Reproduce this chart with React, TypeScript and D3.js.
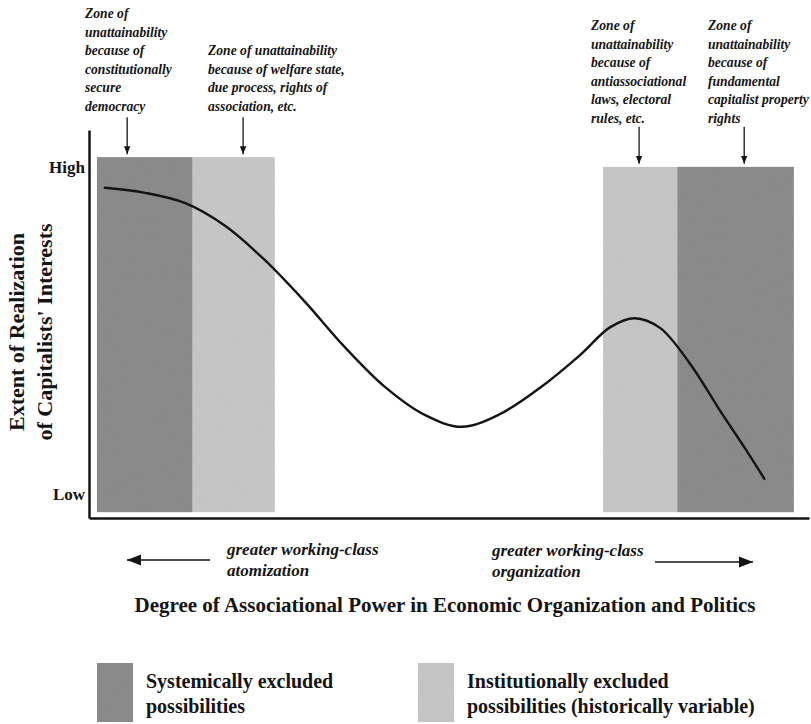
import { useEffect, useRef } from "react";
import * as d3 from "d3";

// zones of unattainability (x in "associational power" units 0-100, y in "realization" units 0-100)
const ZONE_START = [1.1, 14.4, 71.4, 81.7];
const ZONE_END = [14.4, 25.8, 81.7, 97.9];
const ZONE_TOP = [93.0, 93.0, 90.5, 90.5];
const ZONE_BOTTOM = 1.5;
const ZONE_KIND = ["systemic", "institutional", "institutional", "systemic"];
const ARROW_AT = [5.3, 21.4, 76.4, 91.0];

// the curve
const CURVE_X = [
  2.2, 7.8, 13.3, 18.9, 24.4, 30.0, 35.5, 41.1, 46.7, 51.8,
  57.1, 62.6, 68.2, 72.4, 75.8, 79.3, 83.5, 87.6, 91.1, 93.8,
];
const CURVE_Y = [
  85.1, 83.8, 81.2, 75.3, 66.5, 55.7, 44.1, 33.8, 26.5, 23.5,
  26.8, 33.5, 42.0, 49.2, 51.5, 49.0, 39.7, 27.8, 18.0, 10.1,
];

const Y_TICKS = [90.5, 6.2];
const Y_TICK_LABELS = ["High", "Low"];

const NOTE_1 = ["Zone of", "unattainability", "because of", "constitutionally", "secure", "democracy"];
const NOTE_2 = ["Zone of unattainability", "because of welfare state,", "due process, rights of", "association, etc."];
const NOTE_3 = ["Zone of", "unattainability", "because of", "antiassociational", "laws, electoral", "rules, etc."];
const NOTE_4 = ["Zone of", "unattainability", "because of", "fundamental", "capitalist property", "rights"];

const LEFT_DIR = ["greater working-class", "atomization"];
const RIGHT_DIR = ["greater working-class", "organization"];
const X_TITLE = "Degree of Associational Power in Economic Organization and Politics";
const Y_TITLE = ["Extent of Realization", "of Capitalists' Interests"];

const LEGEND_LABELS = [
  ["Systemically excluded", "possibilities"],
  ["Institutionally excluded", "possibilities (historically variable)"],
];
const LEGEND_KIND = ["systemic", "institutional"];

const COLORS: Record<string, string> = { systemic: "#8e8e8e", institutional: "#cacaca" };
const FONT = "'Liberation Serif', 'Times New Roman', serif";
const INK = "#141414";

const App = () => {
  const ref = useRef<SVGSVGElement | null>(null);
  const width = 811;
  const height = 724;

  useEffect(() => {
    const svg = d3.select(ref.current);
    svg.selectAll("*").remove();

    const x = d3.scaleLinear().domain([0, 100]).range([89, 809]);
    const y = d3.scaleLinear().domain([0, 100]).range([518, 130]);

    const defs = svg.append("defs");
    const marker = (id: string, size: number) =>
      defs
        .append("marker")
        .attr("id", id)
        .attr("viewBox", "0 0 10 10")
        .attr("refX", 10)
        .attr("refY", 5)
        .attr("markerWidth", size)
        .attr("markerHeight", size)
        .attr("markerUnits", "userSpaceOnUse")
        .attr("orient", "auto")
        .append("path")
        .attr("d", "M0,1 L10,5 L0,9 Z")
        .attr("fill", INK);
    marker("head", 8);
    marker("bighead", 14);

    const grain = defs.append("filter").attr("id", "grain").attr("x", 0).attr("y", 0).attr("width", 1).attr("height", 1);
    grain.append("feTurbulence").attr("type", "fractalNoise").attr("baseFrequency", 0.9).attr("numOctaves", 2).attr("result", "n");
    grain.append("feColorMatrix").attr("in", "n").attr("type", "matrix")
      .attr("values", "0 0 0 0 0  0 0 0 0 0  0 0 0 0 0  0 0 0 0.12 0").attr("result", "a");
    grain.append("feComposite").attr("in", "a").attr("in2", "SourceGraphic").attr("operator", "atop");

    // zones
    const zones = ZONE_START.map((s, i) => ({ s, e: ZONE_END[i], top: ZONE_TOP[i], kind: ZONE_KIND[i] }));
    svg
      .append("g")
      .selectAll("rect")
      .data(zones)
      .join("rect")
      .attr("x", (d) => x(d.s))
      .attr("width", (d) => x(d.e) - x(d.s))
      .attr("y", (d) => y(d.top))
      .attr("height", (d) => y(ZONE_BOTTOM) - y(d.top))
      .attr("fill", (d) => COLORS[d.kind])
      .attr("filter", "url(#grain)");

    // curve
    const pts = CURVE_X.map((cx, i) => [cx, CURVE_Y[i]] as [number, number]);
    svg
      .append("path")
      .datum(pts)
      .attr("fill", "none")
      .attr("stroke", INK)
      .attr("stroke-width", 2.4)
      .attr("stroke-linecap", "round")
      .attr("d", d3.line().x((d) => x(d[0])).y((d) => y(d[1])).curve(d3.curveCatmullRom.alpha(0.5)));

    // axes
    const yAxis = svg
      .append("g")
      .attr("transform", `translate(${x(0)},0)`)
      .call(
        d3
          .axisLeft(y)
          .tickValues(Y_TICKS)
          .tickFormat((_, i) => Y_TICK_LABELS[i])
          .tickSize(0)
          .tickPadding(4)
      );
    yAxis.select(".domain").attr("stroke", INK).attr("stroke-width", 2.5);
    yAxis
      .selectAll("text")
      .attr("font-family", FONT)
      .attr("font-weight", "bold")
      .attr("font-size", 17)
      .attr("fill", INK);

    const xAxis = svg
      .append("g")
      .attr("transform", `translate(0,${y(0)})`)
      .call(d3.axisBottom(x).tickValues([]).tickSizeOuter(0));
    xAxis.select(".domain").attr("stroke", INK).attr("stroke-width", 2.5);

    // notes above the zones
    const notes = [
      { lines: NOTE_1, left: 85, first: 18 },
      { lines: NOTE_2, left: 208, first: 55 },
      { lines: NOTE_3, left: 591, first: 30 },
      { lines: NOTE_4, left: 708, first: 30 },
    ];
    notes.forEach((n) => {
      svg
        .append("g")
        .selectAll("text")
        .data(n.lines)
        .join("text")
        .attr("x", n.left)
        .attr("y", (_, i) => n.first + i * 18.6)
        .attr("font-family", FONT)
        .attr("font-weight", "bold")
        .attr("font-style", "italic")
        .attr("font-size", 13.6)
        .attr("fill", INK)
        .text((d) => d);
    });

    // arrows down to the zones
    svg
      .append("g")
      .selectAll("line")
      .data(ARROW_AT.map((a, i) => ({ a, top: ZONE_TOP[i] })))
      .join("line")
      .attr("x1", (d) => x(d.a))
      .attr("x2", (d) => x(d.a))
      .attr("y1", (d) => y(d.top) - 40)
      .attr("y2", (d) => y(d.top) - 3)
      .attr("stroke", INK)
      .attr("stroke-width", 1.3)
      .attr("marker-end", "url(#head)");

    // direction arrows under the axis
    const dir = svg.append("g");
    dir
      .append("line")
      .attr("x1", 210).attr("x2", 127).attr("y1", 560).attr("y2", 560)
      .attr("stroke", INK).attr("stroke-width", 1.6).attr("marker-end", "url(#bighead)");
    dir
      .append("line")
      .attr("x1", 655).attr("x2", 753).attr("y1", 562).attr("y2", 562)
      .attr("stroke", INK).attr("stroke-width", 1.6).attr("marker-end", "url(#bighead)");
    [
      { lines: LEFT_DIR, left: 227, first: 555 },
      { lines: RIGHT_DIR, left: 492, first: 556 },
    ].forEach((n) => {
      dir
        .append("g")
        .selectAll("text")
        .data(n.lines)
        .join("text")
        .attr("x", n.left)
        .attr("y", (_, i) => n.first + i * 21)
        .attr("font-family", FONT)
        .attr("font-weight", "bold")
        .attr("font-style", "italic")
        .attr("font-size", 17)
        .attr("fill", INK)
        .text((d) => d);
    });

    // titles
    svg
      .append("text")
      .attr("x", 445)
      .attr("y", 612)
      .attr("text-anchor", "middle")
      .attr("font-family", FONT)
      .attr("font-weight", "bold")
      .attr("font-size", 21)
      .attr("fill", INK)
      .text(X_TITLE);

    svg
      .append("g")
      .selectAll("text")
      .data(Y_TITLE)
      .join("text")
      .attr("transform", (_, i) => `translate(${24 + i * 28},332) rotate(-90)`)
      .attr("text-anchor", "middle")
      .attr("font-family", FONT)
      .attr("font-weight", "bold")
      .attr("font-size", 22)
      .attr("fill", INK)
      .text((d) => d);

    // legend
    const legend = svg
      .append("g")
      .selectAll("g")
      .data(LEGEND_KIND.map((k, i) => ({ k, lines: LEGEND_LABELS[i], left: i === 0 ? 97 : 418 })))
      .join("g")
      .attr("transform", (d) => `translate(${d.left},663)`);
    legend
      .append("rect")
      .attr("width", 36)
      .attr("height", 59)
      .attr("fill", (d) => COLORS[d.k])
      .attr("filter", "url(#grain)");
    legend
      .selectAll("text")
      .data((d) => d.lines)
      .join("text")
      .attr("x", 49)
      .attr("y", (_, i) => 25 + i * 25)
      .attr("font-family", FONT)
      .attr("font-weight", "bold")
      .attr("font-size", 20)
      .attr("fill", INK)
      .text((d) => d);
  }, []);

  return (
    <svg
      ref={ref}
      width={width}
      height={height}
      style={{ position: "absolute", left: 0, top: 0, display: "block", background: "#fff" }}
    />
  );
};

export default App;
